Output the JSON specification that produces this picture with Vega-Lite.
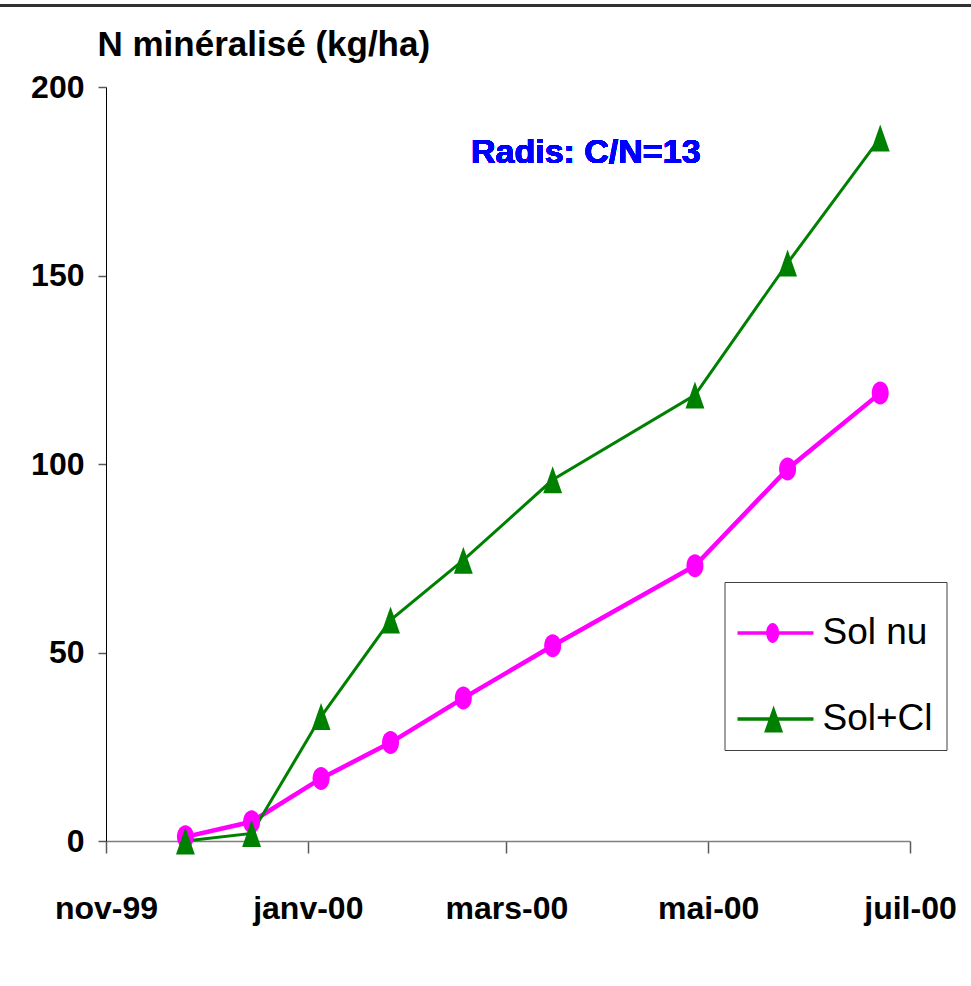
{
  "$schema": "https://vega.github.io/schema/vega-lite/v6.json",
  "width": 804,
  "height": 754,
  "autosize": "none",
  "padding": {"left": 106, "top": 87, "right": 61, "bottom": 145},
  "background": "white",
  "config": {
    "view": {"stroke": null},
    "font": "Liberation Sans, Arial, sans-serif",
    "locale": {
      "time": {
        "dateTime": "%A %e %B %Y à %X",
        "date": "%d/%m/%Y",
        "time": "%H:%M:%S",
        "periods": ["AM", "PM"],
        "days": ["dimanche", "lundi", "mardi", "mercredi", "jeudi", "vendredi", "samedi"],
        "shortDays": ["dim.", "lun.", "mar.", "mer.", "jeu.", "ven.", "sam."],
        "months": ["janvier", "février", "mars", "avril", "mai", "juin", "juillet", "août", "septembre", "octobre", "novembre", "décembre"],
        "shortMonths": ["janv", "févr", "mars", "avr", "mai", "juin", "juil", "août", "sept", "oct", "nov", "déc"]
      }
    }
  },
  "data": {
    "values": [
      {"serie": "Sol nu", "date": "1999-11-25", "N": 1.1},
      {"serie": "Sol nu", "date": "1999-12-15", "N": 5.1},
      {"serie": "Sol nu", "date": "2000-01-05", "N": 16.6},
      {"serie": "Sol nu", "date": "2000-01-26", "N": 26.1},
      {"serie": "Sol nu", "date": "2000-02-17", "N": 37.9},
      {"serie": "Sol nu", "date": "2000-03-15", "N": 51.8},
      {"serie": "Sol nu", "date": "2000-04-27", "N": 73.0},
      {"serie": "Sol nu", "date": "2000-05-25", "N": 98.7},
      {"serie": "Sol nu", "date": "2000-06-22", "N": 118.8},
      {"serie": "Sol+Cl", "date": "1999-11-25", "N": 0},
      {"serie": "Sol+Cl", "date": "1999-12-15", "N": 2.0},
      {"serie": "Sol+Cl", "date": "2000-01-05", "N": 33.0},
      {"serie": "Sol+Cl", "date": "2000-01-26", "N": 58.6},
      {"serie": "Sol+Cl", "date": "2000-02-17", "N": 74.5},
      {"serie": "Sol+Cl", "date": "2000-03-15", "N": 95.8},
      {"serie": "Sol+Cl", "date": "2000-04-27", "N": 118.3},
      {"serie": "Sol+Cl", "date": "2000-05-25", "N": 153.3},
      {"serie": "Sol+Cl", "date": "2000-06-22", "N": 186.5}
    ]
  },
  "encoding": {
    "x": {
      "field": "date",
      "type": "temporal",
      "scale": {
        "type": "utc",
        "domain": [
          {"year": 1999, "month": 11, "date": 1, "utc": true},
          {"year": 2000, "month": 7, "date": 1, "utc": true}
        ]
      },
      "axis": {
        "title": null,
        "grid": false,
        "values": [
          {"year": 1999, "month": 11, "date": 1, "utc": true},
          {"year": 2000, "month": 1, "date": 1, "utc": true},
          {"year": 2000, "month": 3, "date": 1, "utc": true},
          {"year": 2000, "month": 5, "date": 1, "utc": true},
          {"year": 2000, "month": 7, "date": 1, "utc": true}
        ],
        "format": "%b-%y",
        "domainColor": "#7f7f7f",
        "domainWidth": 1.5,
        "tickColor": "#595959",
        "tickSize": 12,
        "tickWidth": 1.5,
        "labelFontSize": 32,
        "labelFontWeight": "bold",
        "labelColor": "black",
        "labelBaseline": "alphabetic",
        "labelPadding": 65,
        "labelOverlap": false,
        "labelFlush": false,
        "labelBound": false
      }
    },
    "y": {
      "field": "N",
      "type": "quantitative",
      "scale": {"domain": [0, 200], "nice": false},
      "axis": {
        "title": "N minéralisé  (kg/ha)",
        "titleAngle": 0,
        "titleAlign": "left",
        "titleBaseline": "alphabetic",
        "titleX": -9,
        "titleY": -32,
        "titleFontSize": 35,
        "titleFontWeight": "bold",
        "titleColor": "black",
        "values": [0, 50, 100, 150, 200],
        "grid": false,
        "domainColor": "black",
        "domainWidth": 1,
        "tickColor": "#595959",
        "tickSize": 8,
        "tickWidth": 1.5,
        "labelFontSize": 32,
        "labelFontWeight": "bold",
        "labelColor": "black",
        "labelPadding": 14
      }
    }
  },
  "layer": [
    {
      "mark": {"type": "rule", "color": "#333333", "strokeWidth": 1.5, "clip": false},
      "encoding": {
        "x": {"datum": {"year": 1999, "month": 9, "date": 29, "utc": true}},
        "x2": {"datum": {"year": 2000, "month": 7, "date": 20, "utc": true}},
        "y": {"datum": 221.6}
      }
    },
    {
      "transform": [{"filter": "datum.serie === 'Sol nu'"}],
      "mark": {"type": "line", "color": "#ff00ff", "strokeWidth": 4.5}
    },
    {
      "transform": [{"filter": "datum.serie === 'Sol+Cl'"}],
      "mark": {"type": "line", "color": "#008000", "strokeWidth": 3}
    },
    {
      "transform": [{"filter": "datum.serie === 'Sol nu'"}],
      "mark": {
        "type": "point",
        "filled": true,
        "opacity": 1,
        "color": "#ff00ff",
        "size": 529,
        "shape": "M-0.74,0A0.74,1 0 1,1 0.74,0A0.74,1 0 1,1 -0.74,0Z"
      }
    },
    {
      "transform": [{"filter": "datum.serie === 'Sol+Cl'"}],
      "mark": {
        "type": "point",
        "filled": true,
        "opacity": 1,
        "color": "#008000",
        "size": 729,
        "shape": "M0,-1L0.7,1L-0.7,1Z"
      }
    },
    {
      "mark": {"type": "point", "filled": true, "opacity": 1, "strokeWidth": 0, "clip": true},
      "encoding": {
        "y": {"datum": -80},
        "color": {
          "field": "serie",
          "type": "nominal",
          "scale": {"domain": ["Sol nu", "Sol+Cl"], "range": ["#ff00ff", "#008000"]},
          "legend": {
            "title": null,
            "orient": "none",
            "legendX": 618.5,
            "legendY": 495,
            "padding": 13,
            "rowPadding": 30,
            "fillColor": "white",
            "strokeColor": "#404040",
            "symbolSize": 5776,
            "symbolStrokeWidth": 0,
            "symbolOpacity": 1,
            "labelFontSize": 37,
            "labelFontWeight": "normal",
            "labelColor": "black",
            "labelOffset": 9,
            "labelLimit": 0
          }
        },
        "shape": {
          "field": "serie",
          "type": "nominal",
          "scale": {
            "domain": ["Sol nu", "Sol+Cl"],
            "range": [
              "M-1,-0.045H1V0.045H-1ZM-0.245,0A0.17,0.26 0 1,1 0.095,0A0.17,0.26 0 1,1 -0.245,0Z",
              "M-1,-0.045H1V0.045H-1ZM-0.05,-0.355L0.2,0.355L-0.3,0.355Z"
            ]
          },
          "legend": {
            "title": null,
            "orient": "none",
            "legendX": 618.5,
            "legendY": 495,
            "padding": 13,
            "rowPadding": 30,
            "fillColor": "white",
            "strokeColor": "#404040",
            "symbolSize": 5776,
            "symbolStrokeWidth": 0,
            "symbolOpacity": 1,
            "labelFontSize": 37,
            "labelFontWeight": "normal",
            "labelColor": "black",
            "labelOffset": 9,
            "labelLimit": 0
          }
        }
      }
    },
    {
      "mark": {
        "type": "text",
        "text": "Radis: C/N=13",
        "color": "#0000ff",
        "fontSize": 34,
        "fontWeight": "bold",
        "align": "center",
        "baseline": "alphabetic"
      },
      "encoding": {
        "x": {"datum": {"year": 2000, "month": 3, "date": 25, "utc": true}},
        "y": {"datum": 179.8}
      }
    }
  ]
}
